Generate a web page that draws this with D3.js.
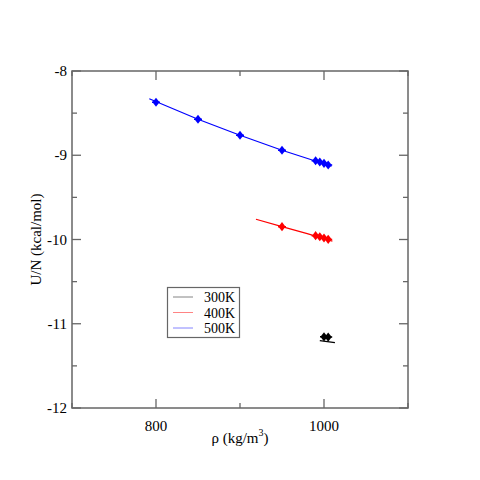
<!DOCTYPE html>
<html lang="en">
  <head>
    <meta charset="utf-8">
    <title>U/N vs density</title>
    <style>
      body { margin: 0; background: #fff; }
    </style>
  </head>
  <body>
    <svg class="chart"></svg>
    <script src="https://d3js.org/d3.v7.min.js"></script>
    <script>
      // data
      const seriesNames = ["300K", "400K", "500K"];
      const seriesColors = ["#000000", "#ff0000", "#0000ff"];

      const rho300 = [1000, 1005];
      const u300 = [-11.155, -11.158];
      const rho400 = [950, 990, 995, 1000, 1005];
      const u400 = [-9.848, -9.955, -9.967, -9.982, -9.998];
      const rho500 = [800, 850, 900, 950, 990, 995, 1000, 1005];
      const u500 = [-8.371, -8.573, -8.763, -8.941, -9.065, -9.080, -9.096, -9.116];

      // fitted lines
      const fitRho300 = [995, 1013];
      const fitU300 = [-11.20, -11.225];
      const fitRho400 = [919, 950, 980, 1010];
      const fitU400 = [-9.760, -9.848, -9.930, -10.020];
      const fitRho500 = [792, 850, 900, 950, 1009];
      const fitU500 = [-8.330, -8.573, -8.763, -8.941, -9.130];

      const xTicks = [800, 1000];
      const xMinor = [700, 900, 1100];
      const yTicks = [-12, -11, -10, -9, -8];
      const yMinor = [-11.5, -10.5, -9.5, -8.5];

      const zip = (a, b) => a.map((v, i) => [v, b[i]]);
      const points = [zip(rho300, u300), zip(rho400, u400), zip(rho500, u500)];
      const fits = [zip(fitRho300, fitU300), zip(fitRho400, fitU400), zip(fitRho500, fitU500)];

      const W = 480, H = 480;
      const m = {left: 72, right: 72, top: 71, bottom: 72};
      const svg = d3.select(".chart").attr("width", W).attr("height", H)
        .attr("font-family", "'Liberation Serif', 'Times New Roman', serif");

      const x = d3.scaleLinear().domain([700, 1100]).range([m.left, W - m.right]);
      const y = d3.scaleLinear().domain([-12, -8]).range([H - m.bottom, m.top]);

      const frame = "#666";
      const g = svg.append("g");

      // ticks, all pointing inward on every side
      const tick = (x1, y1, x2, y2) => g.append("line")
        .attr("x1", x1).attr("y1", y1).attr("x2", x2).attr("y2", y2)
        .attr("stroke", frame).attr("stroke-width", 1.3);
      xTicks.forEach(v => { tick(x(v), y(-12), x(v), y(-12) - 9); tick(x(v), y(-8), x(v), y(-8) + 9); });
      xMinor.forEach(v => { tick(x(v), y(-12), x(v), y(-12) - 5); tick(x(v), y(-8), x(v), y(-8) + 5); });
      yTicks.forEach(v => { tick(x(700), y(v), x(700) + 9, y(v)); tick(x(1100), y(v), x(1100) - 9, y(v)); });
      yMinor.forEach(v => { tick(x(700), y(v), x(700) + 5, y(v)); tick(x(1100), y(v), x(1100) - 5, y(v)); });

      g.append("rect")
        .attr("x", x(700)).attr("y", y(-8))
        .attr("width", x(1100) - x(700)).attr("height", y(-12) - y(-8))
        .attr("fill", "none").attr("stroke", frame).attr("stroke-width", 1.5);

      g.selectAll(".xlab").data(xTicks).enter().append("text")
        .attr("x", d => x(d)).attr("y", y(-12) + 23)
        .attr("text-anchor", "middle").attr("font-size", 15)
        .text(d => d);
      g.selectAll(".ylab").data(yTicks).enter().append("text")
        .attr("x", x(700) - 5).attr("y", d => y(d) + 5)
        .attr("text-anchor", "end").attr("font-size", 15)
        .text(d => d);

      const xl = g.append("text").attr("x", 240).attr("y", 443)
        .attr("text-anchor", "middle").attr("font-size", 15);
      xl.append("tspan").text("ρ (kg/m");
      xl.append("tspan").attr("font-size", 10).attr("dy", -7).text("3");
      xl.append("tspan").attr("dy", 7).text(")");

      g.append("text")
        .attr("transform", "translate(41," + y(-10) + ") rotate(-90)")
        .attr("text-anchor", "middle").attr("font-size", 15)
        .text("U/N (kcal/mol)");

      const line = d3.line().x(d => x(d[0])).y(d => y(d[1]));
      fits.forEach((f, i) => {
        g.append("path").datum(f).attr("d", line)
          .attr("fill", "none").attr("stroke", seriesColors[i]).attr("stroke-width", 1.2);
      });

      const diamond = d3.symbol().type(d3.symbolDiamond).size(30);
      points.forEach((p, i) => {
        const s = g.selectAll(".pt" + i).data(p).enter().append("g")
          .attr("transform", d => "translate(" + x(d[0]) + "," + y(d[1]) + ")");
        s.append("path").attr("d", diamond).attr("fill", seriesColors[i])
          .attr("transform", "scale(1.2,0.9)");
        s.append("path").attr("d", "M-4,0H4M0,-2.5V2.5")
          .attr("stroke", seriesColors[i]).attr("stroke-width", 1.4);
      });

      // legend
      const lg = g.append("g");
      lg.append("rect").attr("x", 167.5).attr("y", 287.5).attr("width", 72).attr("height", 50)
        .attr("fill", "none").attr("stroke", frame).attr("stroke-width", 1.2);
      seriesNames.forEach((n, i) => {
        const yy = 297 + i * 15.5;
        lg.append("line").attr("x1", 173).attr("x2", 193).attr("y1", yy).attr("y2", yy)
          .attr("stroke", seriesColors[i]).attr("stroke-width", 0.8).attr("opacity", 0.6);
        lg.append("text").attr("x", 235).attr("y", yy + 5)
          .attr("text-anchor", "end").attr("font-size", 14).text(n);
      });
    </script>
  </body>
</html>
